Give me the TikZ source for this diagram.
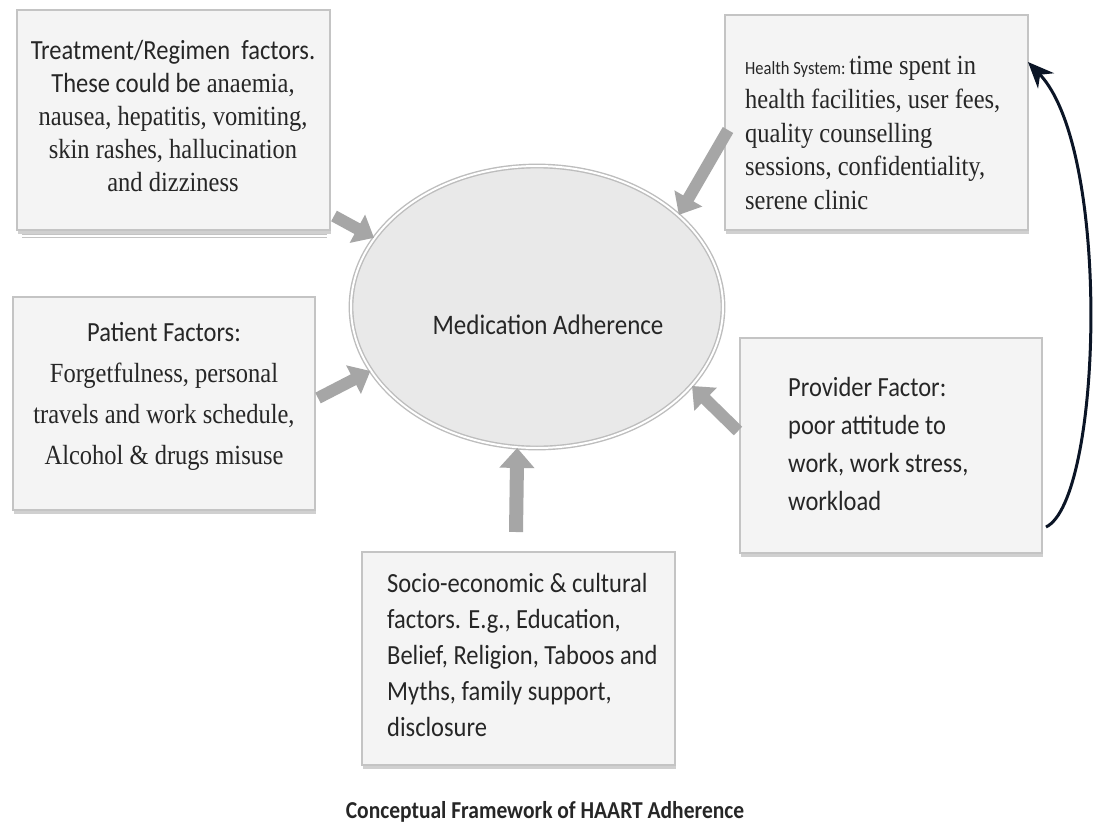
\documentclass[tikz,border=0pt]{standalone}
\usepackage{fontspec}
\setmainfont{Liberation Serif}
\newfontfamily\calib{Carlito}
\usetikzlibrary{shapes.geometric,arrows.meta,shadows,calc}
\definecolor{boxfill}{HTML}{F4F4F4}
\definecolor{boxline}{HTML}{C4C4C4}
\definecolor{arrgray}{HTML}{A6A6A6}
\definecolor{ellfill}{HTML}{E9E9E9}
\definecolor{ellline}{HTML}{BDBDBD}
\definecolor{navy}{HTML}{0B1526}
\definecolor{txt}{HTML}{262626}
\begin{document}
\begin{tikzpicture}[x=1pt,y=-1pt,
  fbox/.style={rectangle, draw=boxline, line width=1.3pt, fill=boxfill, inner sep=0pt,
    drop shadow={shadow xshift=1pt, shadow yshift=-4pt, opacity=0.3, fill=black!60}},
  ftext/.style={inner sep=0pt, text=txt, yscale=1.13},
  garrow/.style={draw=arrgray, line width=12pt, -{Triangle[width=31pt,length=19pt]}},
  curvearrow/.style={draw=navy, line width=3pt, -{Stealth[width=22pt,length=26pt]}}
]
\useasboundingbox[fill=white] (0,0) rectangle (1096,827);

% boxes
\node[fbox, minimum width=313pt, minimum height=220pt] (treat) at (173.5,120) {};
\draw[boxline, line width=1.2pt, double=white, double distance=1.2pt] (22,236) -- (327,236);
\node[fbox, minimum width=303pt, minimum height=215pt] (health) at (876.5,122.5) {};
\node[fbox, minimum width=302pt, minimum height=213pt] (patient) at (164,403.5) {};
\node[fbox, minimum width=302pt, minimum height=215pt] (provider) at (891,445.5) {};
\node[fbox, minimum width=313pt, minimum height=213pt] (socio) at (518.5,658.5) {};

% ellipse
\node[ellipse, draw=ellline, line width=1.4pt, double=white, double distance=2pt, fill=ellfill,
  minimum width=372pt, minimum height=282pt, inner sep=0pt] (ell) at (537,307) {};
\node[ftext, font=\calib\fontsize{25}{30}\selectfont] (ellT) at (548,325) {Medication Adherence};

% texts
\node[ftext, align=center, font=\fontsize{24.5}{29.2}\selectfont] (treatT) at (173,116)
  {{\calib Treatment/Regimen\ \ factors.}\\ {\calib These could be} anaemia,\\ nausea, hepatitis, vomiting,\\ skin rashes, hallucination\\ and dizziness};
\node[ftext, align=left, anchor=west, font=\fontsize{24.5}{30}\selectfont] (healthT) at (745,133)
  {{\calib\fontsize{16.5}{30}\selectfont Health System:}\kern4pt time spent in\\ health facilities, user fees,\\ quality counselling\\ sessions, confidentiality,\\ serene clinic};
\node[ftext, align=center, font=\fontsize{24.5}{36.3}\selectfont] (patientT) at (164,396)
  {{\calib Patient Factors:}\\ Forgetfulness, personal\\ travels and work schedule,\\ Alcohol \& drugs misuse};
\node[ftext, align=left, anchor=west, font=\calib\fontsize{24.5}{33.4}\selectfont] (providerT) at (788,444)
  {Provider Factor:\\ poor attitude to\\ work, work stress,\\ workload};
\node[ftext, align=left, anchor=west, font=\calib\fontsize{24.5}{31.9}\selectfont] (socioT) at (387,655)
  {Socio-economic \& cultural\\ factors. E.g., Education,\\ Belief, Religion, Taboos and\\ Myths, family support,\\ disclosure};
\node[ftext, anchor=base, font=\calib\bfseries\fontsize{21.5}{26}\selectfont] (caption) at (545,818)
  {Conceptual Framework of HAART Adherence};

% arrow start points
\coordinate (tS) at (334,216);
\coordinate (hS) at (728,130);
\coordinate (pS) at (318,398);
\coordinate (vS) at (738,431);
\coordinate (sS) at (516,532);
\coordinate (cS) at (1046,527);
\coordinate (cE) at (1028,62);

\draw[garrow] (tS) -- (ell.157);
\draw[garrow] (hS) -- (ell.33);
\draw[garrow] (pS) -- (ell.201);
\draw[garrow] (vS) -- (ell.333);
\draw[garrow, line width=14pt, -{Triangle[width=34pt,length=20pt]}] (sS) -- (ell.262);

\draw[curvearrow] (cS) .. controls (1102,500) and (1112,150) .. (cE);
\end{tikzpicture}
\end{document}
